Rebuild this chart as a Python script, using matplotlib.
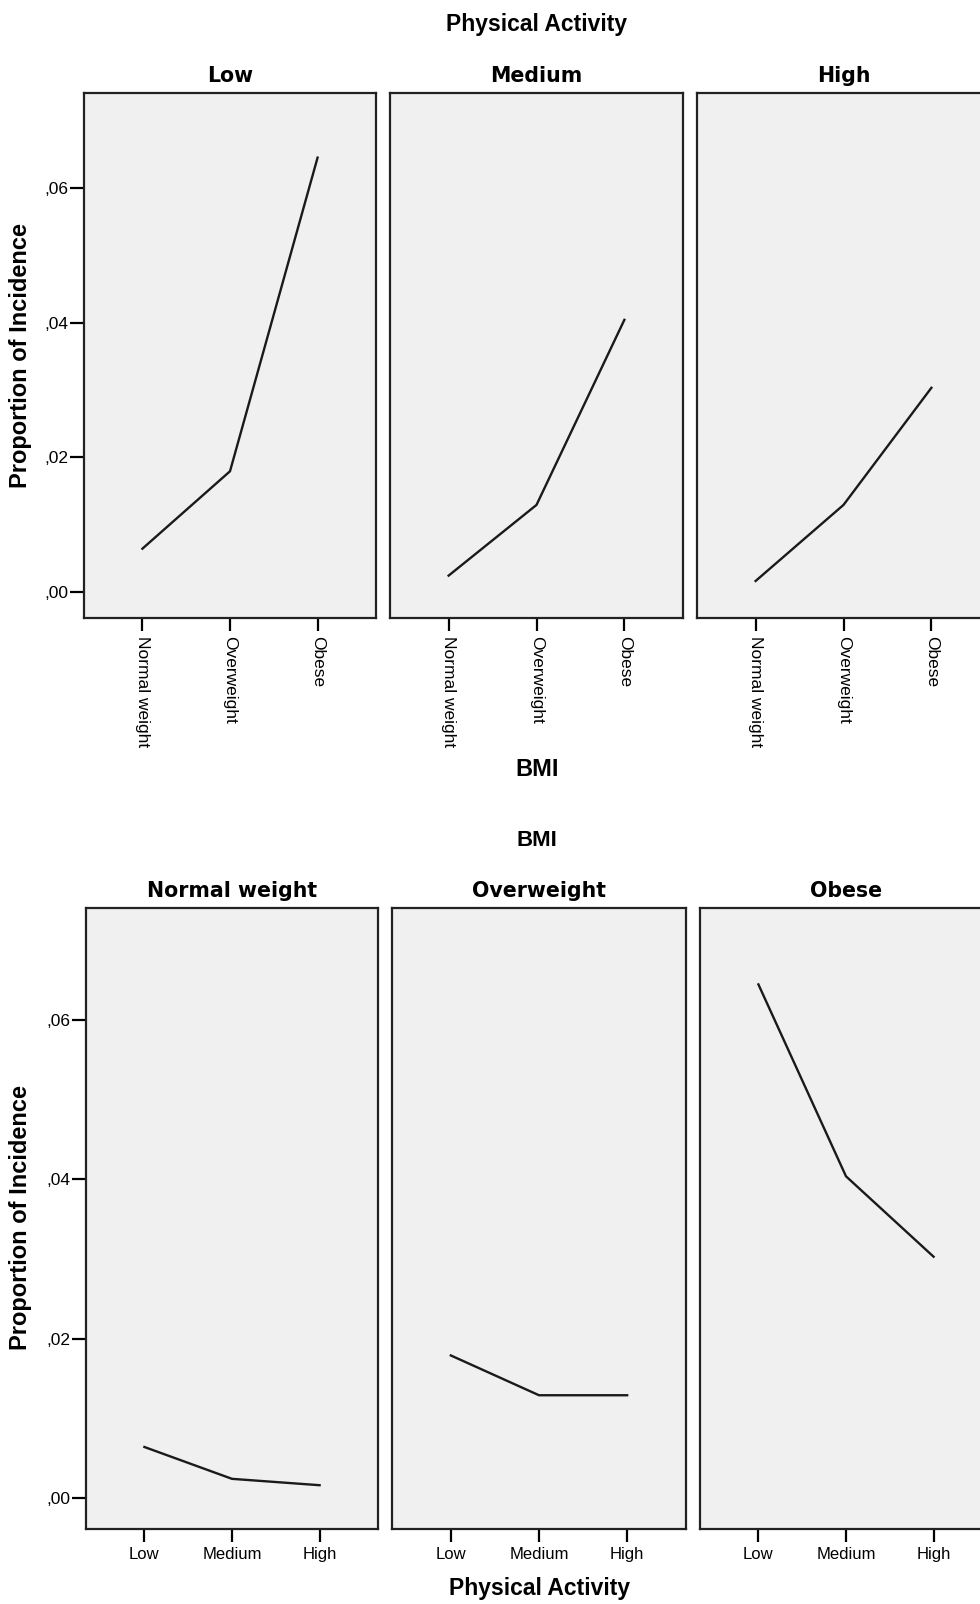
import numpy as np
import matplotlib
matplotlib.use("agg")
import matplotlib.pyplot as plt
from matplotlib.ticker import FuncFormatter

plt.rcParams['font.family'] = ['Liberation Sans', 'DejaVu Sans']

# Data: proportion of incidence by BMI group and physical activity level
bmi_groups = ["Normal weight", "Overweight", "Obese"]
activity_levels = ["Low", "Medium", "High"]
# rows = activity level, cols = BMI group
pa_low = [0.0064, 0.0179, 0.0645]
pa_medium = [0.0024, 0.0129, 0.0404]
pa_high = [0.0016, 0.0129, 0.0303]
y_ticks = [0.00, 0.02, 0.04, 0.06]

values = np.array([pa_low, pa_medium, pa_high])

W, H = 980, 1604
fig = plt.figure(figsize=(W / 100, H / 100), dpi=100)

BG = "#f0f0f0"
LINE = "#1a1a1a"


def px_axes(x0, y0, x1, y1):
    # axes from pixel box (top-left origin)
    return fig.add_axes([x0 / W, 1 - y1 / H, (x1 - x0) / W, (y1 - y0) / H])


def comma_fmt(v, pos):
    s = "{:.2f}".format(v).replace(".", ",")
    return s[1:] if s.startswith("0") else s


def style_axes(ax, first, xlabels, rot):
    ax.set_facecolor(BG)
    for sp in ax.spines.values():
        sp.set_linewidth(1.6)
        sp.set_color("#222222")
    ax.set_xlim(-0.667, 2.667)
    ax.set_ylim(-0.0039, 0.0741)
    ax.set_xticks(range(3))
    if rot:
        ax.set_xticklabels(xlabels, rotation=270, ha="center", va="top", fontsize=12.5)
    else:
        ax.set_xticklabels(xlabels, fontsize=12)
    ax.tick_params(axis="x", direction="out", length=9, width=1.6, pad=4)
    if first:
        ax.set_yticks(y_ticks)
        ax.yaxis.set_major_formatter(FuncFormatter(comma_fmt))
        ax.tick_params(axis="y", direction="out", length=10, width=1.6, labelsize=12.5, pad=1)
    else:
        ax.set_yticks([])


title_kw = dict(fontsize=14.8, fontweight="bold", family="DejaVu Sans", pad=8)

# Top row: facets by physical activity, x = BMI
top_boxes = [(84, 93, 376, 618), (390, 93, 683, 618), (697, 93, 990, 618)]
for i, box in enumerate(top_boxes):
    ax = px_axes(*box)
    ax.plot(range(3), values[i], color=LINE, lw=1.7)
    style_axes(ax, i == 0, bmi_groups, True)
    ax.set_title(activity_levels[i], **title_kw)

# Bottom row: facets by BMI, x = physical activity
bot_boxes = [(86, 908, 378, 1529), (392, 908, 686, 1529), (700, 908, 992, 1529)]
for j, box in enumerate(bot_boxes):
    ax = px_axes(*box)
    ax.plot(range(3), values[:, j], color=LINE, lw=1.7)
    style_axes(ax, j == 0, activity_levels, False)
    ax.set_title(bmi_groups[j], **title_kw)

# Facet headers and axis labels
fig.text(537 / W, 1 - 25 / H, "Physical Activity", fontsize=16.5, fontweight="bold", ha="center", va="center")
fig.text(537 / W, 1 - 770 / H, "BMI", fontsize=17, fontweight="bold", ha="center", va="center")
fig.text(537 / W, 1 - 841 / H, "BMI", fontsize=16, fontweight="bold", ha="center", va="center")
fig.text(540 / W, 1 - 1588 / H, "Physical Activity", fontsize=16.5, fontweight="bold", ha="center", va="center")
fig.text(21 / W, 1 - 356 / H, "Proportion of Incidence", fontsize=17, fontweight="bold",
         rotation=90, ha="center", va="center")
fig.text(21 / W, 1 - 1217 / H, "Proportion of Incidence", fontsize=17, fontweight="bold",
         rotation=90, ha="center", va="center")

fig.savefig("out.png", dpi=100, facecolor="white")
